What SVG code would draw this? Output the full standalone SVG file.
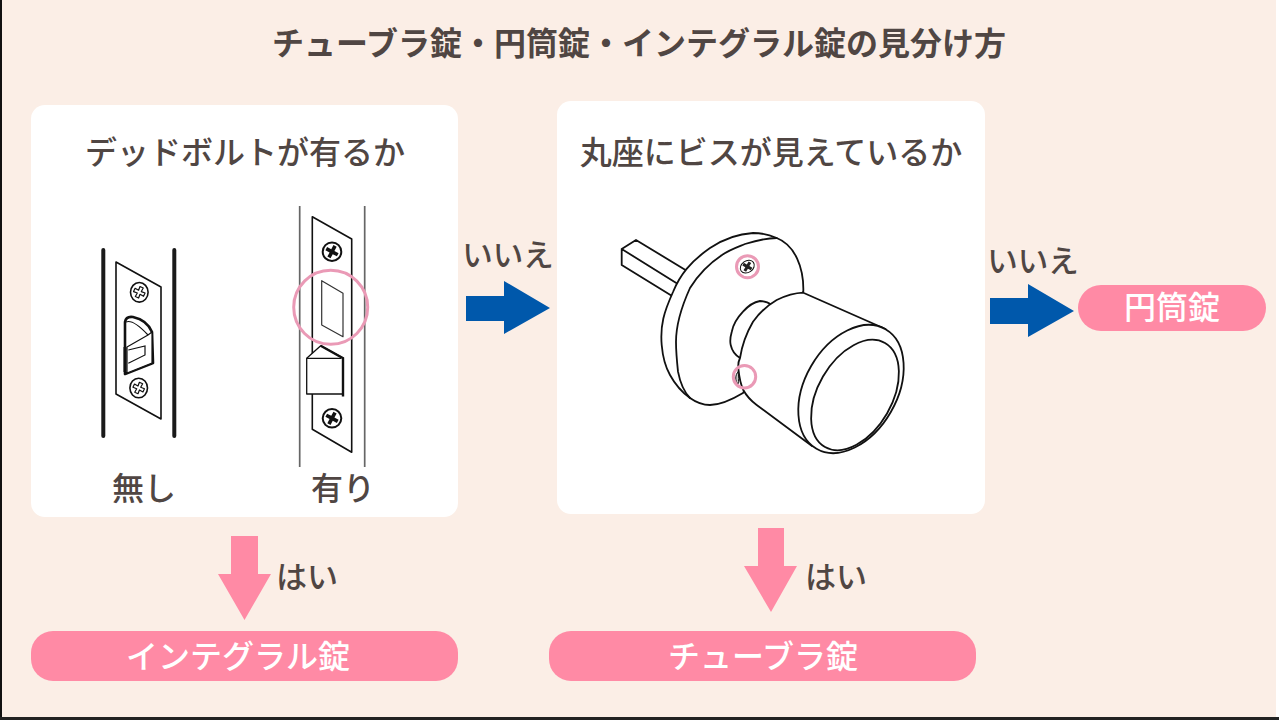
<svg xmlns="http://www.w3.org/2000/svg" width="1279" height="720" viewBox="0 0 1279 720">
<style>
text{font-family:"Noto Sans CJK JP","Noto Sans",sans-serif;fill:#504643;font-size:32px;text-anchor:middle;font-weight:500}
.w{fill:#fff}
.card{fill:#fff}
.pill{fill:#ff8aa5}
.blue{fill:#0058ab}
.ln{fill:#fff;stroke:#111;stroke-width:1.6;stroke-linejoin:round}
.no{fill:none;stroke:#111;stroke-width:1.6;stroke-linecap:round;stroke-linejoin:round}
.ring{fill:none;stroke:#ea9ab6;stroke-width:3}
</style>
<defs>
<g id="star"><ellipse class="ln" rx="8.800" ry="9.800" stroke-width="1.800"/><path class="no" transform="rotate(25)" style="stroke-width:1.200" d="M-1.800 -5.500H1.800L1.500 -1.500L5.500 -1.800V1.800L1.500 1.500L1.800 5.500H-1.800L-1.500 1.500L-5.500 1.800V-1.800L-1.500 -1.500Z"/></g>
<g id="cross"><circle class="ln" r="9.300" style="stroke-width:2"/><path d="M-1.800 -6.500H1.800V-1.800H6.500V1.800H1.800V6.500H-1.800V1.800H-6.500V-1.800H-1.800Z" fill="#111" transform="rotate(28)"/></g>
</defs>
<rect width="1279" height="720" fill="#fbeee6"/>
<rect x="1276" width="3" height="720" fill="#fff"/>
<rect width="2" height="720" fill="#111"/>
<rect y="717" width="1279" height="3" fill="#222"/>
<text id="title" x="639" y="55" style="font-size:32px;font-weight:700">チューブラ錠・円筒錠・インテグラル錠の見分け方</text>

<g id="card-deadbolt">
<rect class="card" x="31" y="105" width="427" height="412" rx="14"/>
<text x="245" y="164">デッドボルトが有るか</text>
<text x="144" y="500">無し</text>
<text x="343" y="500">有り</text>
<g id="latch-none">
<path d="M103.300 250V436M174.300 250V436" stroke="#1a1a1a" stroke-width="4" stroke-linecap="round" fill="none"/>
<path class="ln" d="M116 262L161 287V419L116 394Z"/>
<use href="#star" x="139.300" y="292.300"/>
<use href="#star" x="138.700" y="388"/>
<path d="M125 322Q126 316 133 317Q147 320 152 332L153 363L125 374Z" fill="#fff" stroke="#111" stroke-width="2.600" stroke-linejoin="round"/>
<path d="M127 347V373L152 363V332L148 335Z" fill="#fff" stroke="#111" stroke-width="1.200" stroke-linejoin="round"/>
<path d="M126 322Q133 319 148 335M128.300 350L145 346V355L128.300 363.300" fill="none" stroke="#111" stroke-width="1.200"/>
<path d="M125 347V372" stroke="#111" stroke-width="3" fill="none"/>
</g>
<g id="latch-present">
<path d="M299.700 206V467M364.700 206V467" stroke="#666" stroke-width="1.700" fill="none"/>
<path class="ln" d="M312.300 216.700L351.700 239V452.300L312.300 429.300Z"/>
<use href="#cross" x="332" y="251.700"/>
<use href="#cross" x="332" y="418.300"/>
<path d="M321.700 280.700L343 293.300V336.700L321.700 325Z" fill="none" stroke="#333" stroke-width="1.200" stroke-linejoin="round"/>
<path class="ln" d="M306.700 358.300L320.700 345.700L343.300 358V394H306.700Z" style="stroke-width:1.300"/>
<path d="M306.700 358.300H341" stroke="#111" fill="none" stroke-width="1.200"/>
<path d="M320.700 345.700L343 358.300V396.500" stroke="#111" fill="none" stroke-width="2.400"/>
<circle class="ring" cx="330.700" cy="307.300" r="37"/>
</g>
</g>

<g id="card-screw">
<rect class="card" x="557" y="101" width="428" height="413" rx="14"/>
<text x="771" y="164">丸座にビスが見えているか</text>
<g id="knob" fill="#fff" stroke="#111" stroke-width="1.800" stroke-linejoin="round" stroke-linecap="round">
<path d="M621.700 249L636 240L690 272.700M621.700 249L682.300 286.700M621.700 249V265L673.300 296.700" fill="none"/>
<path d="M803.300 291.700C804 268 795 245 776.700 238C768 234 760 233 753 233C735 234 722 240 710 248C690 262 680 275 673 292C664 312 660 325 661.700 345C663 360 666 368 670 375C676 386 683 393 690 398C697 403 704 405 710 405C722 405 733 399 743 393L803 292Z"/>
<path d="M776.700 238C768 238 758 240 745 244C735 248 729 250 722 255C710 263 698 275 690 288C680 310 676 325 676 342C676 352 677 362 678 371.700C680 382 684 392 690 398" fill="none"/>
<path d="M771.700 305C768 302 764 301 760 301C754 302 748 306 743 311.700C738 317 733 325 731.700 332C730 338 730 342 730.700 345C732 351 735 355 740 358Z"/>
<path d="M740 358C742 345 747 332 753 321.700C760 312 768 305 776.700 300C785 296 795 293 803.300 292.700L885.500 329L812 446L756.700 405C750 400 746 395 743.300 390C740 383 739 375 738.300 368.300C738 364 739 360 740 358Z"/>
<ellipse cx="851" cy="389" rx="69" ry="46" transform="rotate(-60 851 389)"/>
<ellipse cx="855" cy="395" rx="60" ry="37" transform="rotate(-60 855 395)" fill="none"/>
<path d="M738 372C735 374 735 382 738 384C739 381 739 376 738 372Z" fill="#ccc" stroke-width="1"/>
<ellipse cx="747.300" cy="266.700" rx="7.500" ry="5.800" transform="rotate(-35 747.300 266.700)" stroke-width="1"/>
<path d="M745.800 261.500h3v3.600h3.400v3h-3.400v3.600h-3v-3.600h-3.400v-3h3.400z" fill="#222" stroke="none" transform="rotate(30 747.300 266.700)"/>
</g>
<circle class="ring" cx="747.500" cy="266.700" r="11"/>
<circle class="ring" cx="744.500" cy="376.700" r="11.200"/>
</g>

<g id="connectors">
<path class="blue" d="M466 296H504V281L550 308L504 334V321H466Z"/>
<path class="blue" d="M990 298H1028V284L1074 311L1028 337V324H990Z"/>
<path class="pill" d="M231 536H258V574H271L244.500 620L218 574H231Z"/>
<path class="pill" d="M758 528H784V566H797L771 612L744 566H758Z"/>
</g>
<g id="lbl-no1"><text x="508" y="266" style="font-size:30.500px">いいえ</text></g>
<g id="lbl-no2"><text x="1033" y="272" style="font-size:30.500px">いいえ</text></g>
<g id="lbl-yes1"><text x="307" y="588" style="font-size:31px">はい</text></g>
<g id="lbl-yes2"><text x="836" y="588" style="font-size:31px">はい</text></g>

<g id="result-integral"><rect class="pill" x="31" y="631" width="427" height="50" rx="22"/><text class="w" x="238" y="668">インテグラル錠</text></g>
<g id="result-tubular"><rect class="pill" x="549" y="631" width="427" height="50" rx="22"/><text class="w" x="763" y="668">チューブラ錠</text></g>
<g id="result-cylinder"><rect class="pill" x="1078" y="285" width="188" height="46" rx="23"/><text class="w" x="1172" y="319">円筒錠</text></g>
</svg>
